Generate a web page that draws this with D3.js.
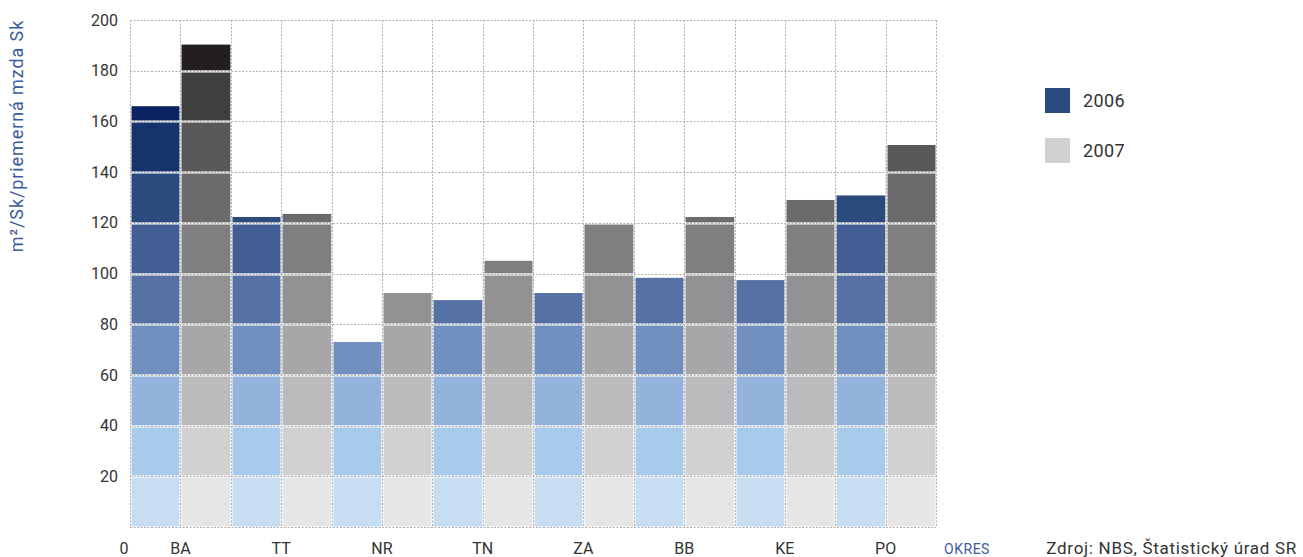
<!DOCTYPE html>
<html>
<head>
<meta charset="utf-8">
<script src="https://cdn.jsdelivr.net/npm/d3@7"></script>
<style>
	body { margin: 0; background: #fff; }
	text { font-family: Roboto, "DejaVu Sans", sans-serif; }
</style>
</head>
<body>
<svg id="chart" width="1303" height="557"></svg>
<script>
	var okresy = ["BA", "TT", "NR", "TN", "ZA", "BB", "KE", "PO"],
		roky = ["2006", "2007"],
		hodnoty2006 = [166, 122.3, 73, 89.5, 92.3, 98.3, 97.4, 130.8],
		hodnoty2007 = [190.3, 123.5, 92.3, 105, 119.5, 122.3, 129, 150.7],
		yTicks = [20, 40, 60, 80, 100, 120, 140, 160, 180, 200];

	// farby pasov po 20 jednotkach (zdola nahor)
	var modre = ["#c6ddf2", "#a9cbeb", "#93b3dc", "#7190c0", "#5672a4", "#425e95", "#2b4a7e", "#17336b", "#0b2461", "#061a50"],
		sive = ["#e6e6e7", "#d1d1d2", "#bbbbbd", "#a7a7a9", "#929294", "#7f7f82", "#6b6b6e", "#58585a", "#3f3f40", "#231f20"];

	var pLeft = 130, pRight = 936, pTop = 20, pBottom = 527;

	var svg = d3.select("#chart");

	var stlpce = [];
	okresy.forEach(function(o, i) {
		stlpce.push({ okres: o, rok: "2006", v: hodnoty2006[i], farby: modre });
		stlpce.push({ okres: o, rok: "2007", v: hodnoty2007[i], farby: sive });
	});

	var x = d3.scaleBand()
		.domain(d3.range(stlpce.length))
		.range([pLeft, pRight])
		.padding(0);

	var y = d3.scaleLinear().domain([0, 200]).range([pBottom, pTop]);

	// pasy v kazdom stlpci
	var segmenty = [];
	stlpce.forEach(function(d, i) {
		for (var lo = 0; lo < d.v; lo += 20) {
			segmenty.push({ i: i, lo: lo, hi: Math.min(lo + 20, d.v), fill: d.farby[lo / 20] });
		}
	});

	svg.append("g").selectAll("rect")
		.data(segmenty)
		.enter()
		.append("rect")
		.attr("x", function(d) { return x(d.i); })
		.attr("width", x.bandwidth())
		.attr("y", function(d) { return y(d.hi); })
		.attr("height", function(d) { return y(d.lo) - y(d.hi); })
		.attr("fill", function(d) { return d.fill; });

	// mriezka
	var hLines = [0].concat(yTicks),
		vLines = d3.range(stlpce.length + 1).map(function(i) { return pLeft + i * x.bandwidth(); });

	var grid = svg.append("g");
	[["#fff", 2, null], ["#b0b0b0", 1, "2,1.5"]].forEach(function(s) {
		grid.append("g").selectAll("line")
			.data(hLines)
			.enter()
			.append("line")
			.attr("x1", pLeft).attr("x2", pRight)
			.attr("y1", function(d) { return Math.round(y(d)) + 0.5; })
			.attr("y2", function(d) { return Math.round(y(d)) + 0.5; })
			.attr("stroke", s[0]).attr("stroke-width", s[1])
			.attr("stroke-dasharray", s[2]);
		grid.append("g").selectAll("line")
			.data(vLines)
			.enter()
			.append("line")
			.attr("y1", pTop).attr("y2", pBottom)
			.attr("x1", function(d) { return Math.round(d) + 0.5; })
			.attr("x2", function(d) { return Math.round(d) + 0.5; })
			.attr("stroke", s[0]).attr("stroke-width", s[1])
			.attr("stroke-dasharray", s[2]);
	});

	// os y
	svg.append("g").selectAll("text")
		.data(yTicks)
		.enter()
		.append("text")
		.attr("x", 118)
		.attr("y", function(d) { return y(d); })
		.attr("dy", "0.35em")
		.attr("text-anchor", "end")
		.attr("font-size", 16)
		.attr("fill", "#333")
		.text(function(d) { return d; });

	svg.append("text")
		.attr("x", 124).attr("y", 554)
		.attr("text-anchor", "middle")
		.attr("font-size", 16).attr("fill", "#333")
		.text("0");

	svg.append("text")
		.attr("transform", "translate(23,136) rotate(-90)")
		.attr("text-anchor", "middle")
		.attr("font-size", 18)
		.attr("letter-spacing", 0.9)
		.attr("fill", "#3b5c9a")
		.text("m²/Sk/priemerná mzda Sk");

	// os x - okresy
	svg.append("g").selectAll("text")
		.data(okresy)
		.enter()
		.append("text")
		.attr("x", function(d, i) { return x(i * 2 + 1); })
		.attr("y", 554)
		.attr("text-anchor", "middle")
		.attr("font-size", 16)
		.attr("fill", "#333")
		.text(function(d) { return d; });

	svg.append("text")
		.attr("x", 967).attr("y", 554)
		.attr("text-anchor", "middle")
		.attr("font-size", 14)
		.attr("letter-spacing", 0.5)
		.attr("fill", "#3b5c9a")
		.text("OKRES");

	svg.append("text")
		.attr("x", 1297).attr("y", 554)
		.attr("text-anchor", "end")
		.attr("font-size", 17)
		.attr("letter-spacing", 0.7)
		.attr("fill", "#333")
		.text("Zdroj: NBS, Štatistický úrad SR");

	// legenda
	var legenda = svg.append("g").selectAll("g")
		.data(roky)
		.enter()
		.append("g")
		.attr("transform", function(d, i) { return "translate(1045," + (88 + i * 50) + ")"; });

	legenda.append("rect")
		.attr("width", 25).attr("height", 25)
		.attr("fill", function(d, i) { return i === 0 ? modre[6] : sive[1]; });

	legenda.append("text")
		.attr("x", 38).attr("y", 12.5)
		.attr("dy", "0.35em")
		.attr("font-size", 18)
		.attr("letter-spacing", 0.4)
		.attr("fill", "#333")
		.text(function(d) { return d; });
</script>
</body>
</html>
